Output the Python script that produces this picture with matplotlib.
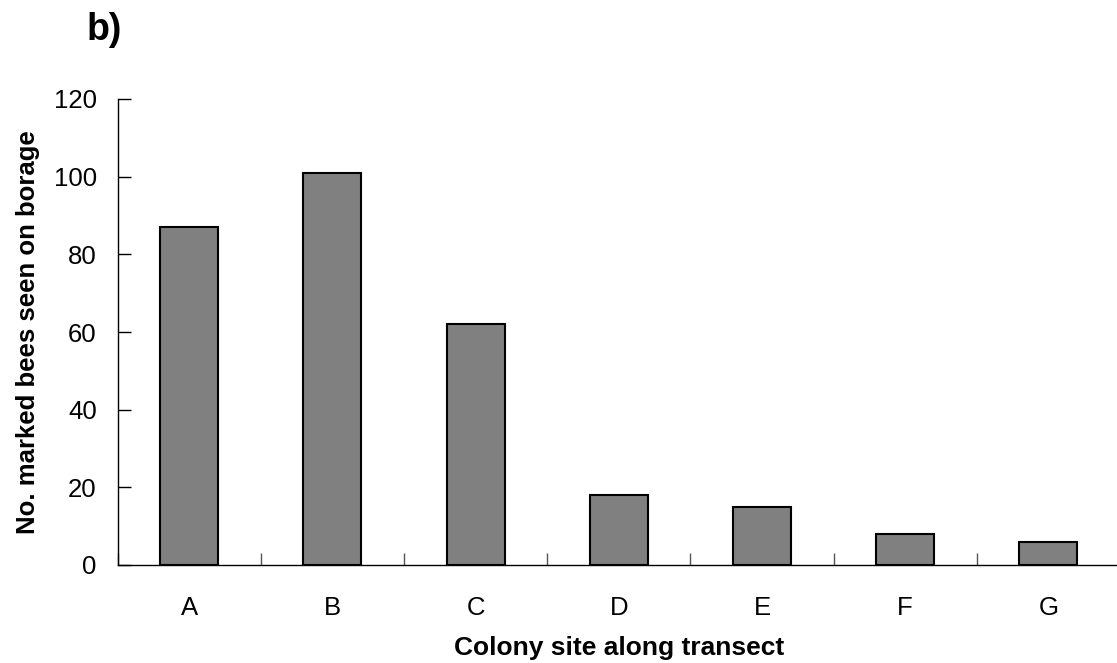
import matplotlib
matplotlib.use("Agg")
import matplotlib.pyplot as plt
import numpy as np

categories = ["A", "B", "C", "D", "E", "F", "G"]
values = [87, 101, 62, 18, 15, 8, 6]
yticks = [0, 20, 40, 60, 80, 100, 120]

plt.rcParams['font.family'] = ['Liberation Sans', 'DejaVu Sans']

W, H = 1117, 663
fig = plt.figure(figsize=(W/100, H/100), dpi=100)
left, right, bottom, top = 117.5, 1120, 565, 99
ax = fig.add_axes([left/W, (H-bottom)/H, (right-left)/W, (bottom-top)/H])

x = np.arange(len(categories))
ax.bar(x, values, width=0.405, color="#808080", edgecolor="black", linewidth=1.5, zorder=3)

ax.set_xlim(-0.5, len(categories)-0.5)
ax.set_ylim(0, 120)
ax.set_yticks(yticks)
ax.set_yticklabels([str(v) for v in yticks], fontsize=18.5)
ax.set_xticks(x)
ax.set_xticklabels(categories, fontsize=18.5)
ax.tick_params(axis='x', length=0, pad=22)
ax.set_xticks(np.arange(-0.5, len(categories)), minor=True)
ax.tick_params(axis='x', which='minor', direction='in', length=9, width=1, color='#555555')
ax.tick_params(axis='y', direction='in', length=9, width=1, pad=15)

for s in ['top', 'right']:
    ax.spines[s].set_visible(False)
ax.spines['left'].set_linewidth(1)
ax.spines['bottom'].set_linewidth(1)

ax.set_xlabel("Colony site along transect", fontsize=19, fontweight='bold', labelpad=12)
ax.set_ylabel("No. marked bees seen on borage", fontsize=18.5, fontweight='bold', labelpad=10)

fig.text(104/W, 1-30/H, "b)", fontsize=27, fontweight='bold', ha='center', va='center')

fig.savefig("out.png", dpi=100)
